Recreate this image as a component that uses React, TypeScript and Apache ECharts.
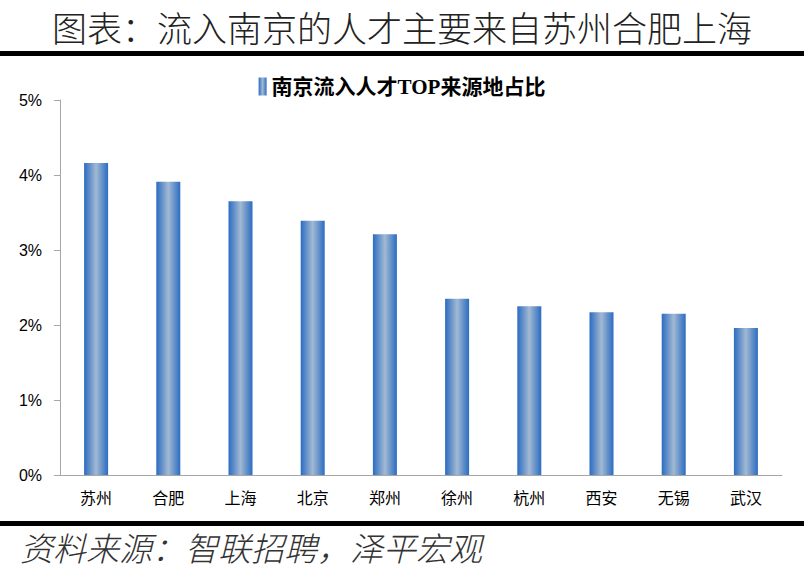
import React, { useEffect, useRef } from "react";
import * as echarts from "echarts";

const categories = ["苏州", "合肥", "上海", "北京", "郑州", "徐州", "杭州", "西安", "无锡", "武汉"];
const shares = [4.16, 3.91, 3.65, 3.39, 3.21, 2.35, 2.25, 2.17, 2.15, 1.96];
const seriesName = "南京流入人才TOP来源地占比";
const titleText = "图表：流入南京的人才主要来自苏州合肥上海";
const sourceText = "资料来源：智联招聘，泽平宏观";

export default function App() {
  const ref = useRef<HTMLDivElement>(null);
  useEffect(() => {
    const chart = echarts.init(ref.current!, null, { renderer: "svg" });
    const barColor = new echarts.graphic.LinearGradient(0, 0, 1, 0, [
      { offset: 0, color: "#2b6cc1" },
      { offset: 0.5, color: "#a2b9d3" },
      { offset: 1, color: "#2b6cc1" },
    ]);
    chart.setOption({
      animation: false,
      backgroundColor: "#ffffff",
      graphic: [
        {
          type: "text",
          left: "center",
          top: 9,
          style: {
            text: titleText,
            font: "300 35px 'Noto Sans CJK SC'",
            fill: "#222",
          },
        },
        { type: "rect", shape: { x: 0, y: 51, width: 804, height: 5 }, style: { fill: "#000" } },
        { type: "rect", shape: { x: 0, y: 521, width: 804, height: 5 }, style: { fill: "#000" } },
        {
          type: "text",
          left: 20,
          top: 530,
          style: {
            text: sourceText,
            font: "italic 300 33px 'Noto Sans CJK SC'",
            fill: "#333",
          },
        },
      ],
      legend: {
        top: 71,
        left: "center",
        itemWidth: 8,
        itemHeight: 18,
        itemGap: 4,
        icon: "rect",
        textStyle: {
          fontSize: 21,
          fontWeight: "bold",
          fontFamily: "'Liberation Serif', 'Noto Sans CJK SC'",
          color: "#000",
        },
        data: [seriesName],
      },
      grid: { left: 60, right: 22, top: 100, bottom: 107 },
      xAxis: {
        type: "category",
        data: categories,
        axisLine: { lineStyle: { color: "#a6a6a6" } },
        axisTick: { length: 6, lineStyle: { color: "#a6a6a6" } },
        axisLabel: {
          color: "#000",
          fontSize: 16,
          margin: 14,
          fontFamily: "'Noto Sans CJK SC'",
        },
      },
      yAxis: {
        type: "value",
        min: 0,
        max: 5,
        interval: 1,
        axisLine: { show: true, lineStyle: { color: "#a6a6a6" } },
        axisTick: { show: true, length: 6, lineStyle: { color: "#a6a6a6" } },
        splitLine: { show: false },
        axisLabel: {
          color: "#000",
          fontSize: 16,
          margin: 18,
          fontFamily: "'Liberation Sans Narrow', 'Liberation Sans'",
          formatter: (v: number) => v + "%",
        },
      },
      series: [
        {
          name: seriesName,
          type: "bar",
          data: shares,
          barWidth: 24,
          itemStyle: { color: barColor },
        },
      ],
    });
    return () => chart.dispose();
  }, []);
  return (
    <div
      ref={ref}
      style={{ position: "fixed", left: 0, top: 0, width: 804, height: 582 }}
    />
  );
}
